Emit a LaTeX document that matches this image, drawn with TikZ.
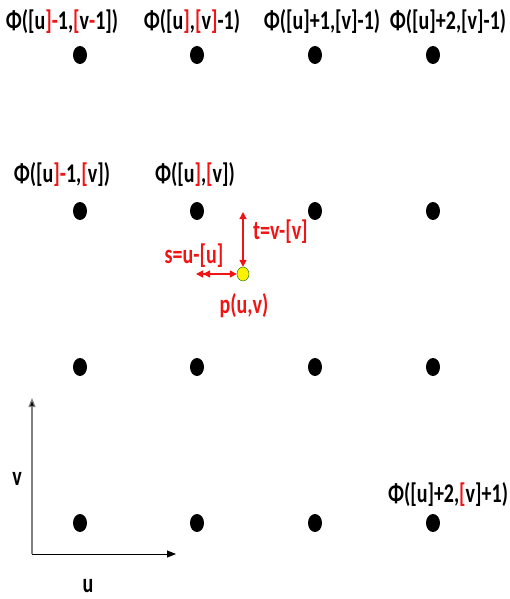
\documentclass[tikz,border=0pt]{standalone}
\usepackage{fontspec}
\setmainfont{Carlito}
\usetikzlibrary{arrows.meta,shapes.geometric}
\definecolor{rd}{RGB}{240,20,20}
\newcommand{\R}[1]{\textcolor{rd}{#1}}
\newcommand{\T}[1]{\scalebox{1}[1.35]{#1}}
\begin{document}
\begin{tikzpicture}[x=1pt,y=-1pt,
  dot/.style={ellipse,fill=black,minimum width=14pt,minimum height=18pt,inner sep=0pt},
  lbl/.style={font=\bfseries\fontsize{20}{22}\selectfont,inner sep=0pt},
  rlbl/.style={lbl,text=rd},
  redarr/.style={draw=rd,line width=1.3pt}]
\useasboundingbox (0,0) rectangle (510,599);
% dots
\foreach \c/\x in {1/80,2/197,3/315,4/433}
  \foreach \r/\y in {1/55,2/211,3/367,4/523}
    \node[dot] (d\c\r) at (\x,\y) {};
% labels
\node[lbl] (l11) at (62,22) {\T{Φ([u\R{]-}1,\R{[}v\R{-}1])}};
\node[lbl] (l21) at (192,22) {\T{Φ([u\R{]},\R{[}v\R{]}-1)}};
\node[lbl] (l31) at (322,22) {\T{Φ([u]+1,[v]-1)}};
\node[lbl] (l41) at (448,22) {\T{Φ([u]+2,[v]-1)}};
\node[lbl] (l12) at (62,175) {\T{Φ([u\R{]-}1,\R{[}v])}};
\node[lbl] (l22) at (195,175) {\T{Φ([u\R{]},\R{[}v])}};
\node[lbl] (l44) at (448,495) {\T{Φ([u]+2,\R{[}v]+1)}};
% point p
\node[ellipse,draw=black!60!green,fill=yellow,minimum width=12pt,minimum height=14pt,inner sep=0pt] (p) at (243,274) {};
\coordinate (ptop) at (243,212);
\coordinate (pleft) at (196,274);
\draw[redarr,{Triangle[length=7pt,width=7pt]}-{Triangle[length=7pt,width=7pt]}] (p.north) -- (ptop);
\draw[redarr,{Triangle[length=7pt,width=7pt]}-{Triangle[length=7pt,width=7pt]Triangle[length=7pt,width=7pt]}] (p.west) -- (pleft);
\node[rlbl,anchor=west] (t) at (253,232) {\T{t=v-[v]}};
\node[rlbl] (s) at (194,256) {\T{s=u-[u]}};
\node[rlbl] (pl) at (244,306) {\T{p(u,v)}};
% axes
\coordinate (o) at (32,554);
\coordinate (vy) at (32,398);
\coordinate (ux) at (176,554);
\draw[gray,line width=1.2pt,-{Triangle[length=9pt,width=7pt,fill=black]}] (o) -- (vy);
\draw[black,line width=0.8pt,-{Triangle[length=9pt,width=7pt]}] (o) -- (ux);
\node[lbl] (v) at (17,479) {\T{v}};
\node[lbl] (u) at (88,586) {\T{u}};
\end{tikzpicture}
\end{document}
